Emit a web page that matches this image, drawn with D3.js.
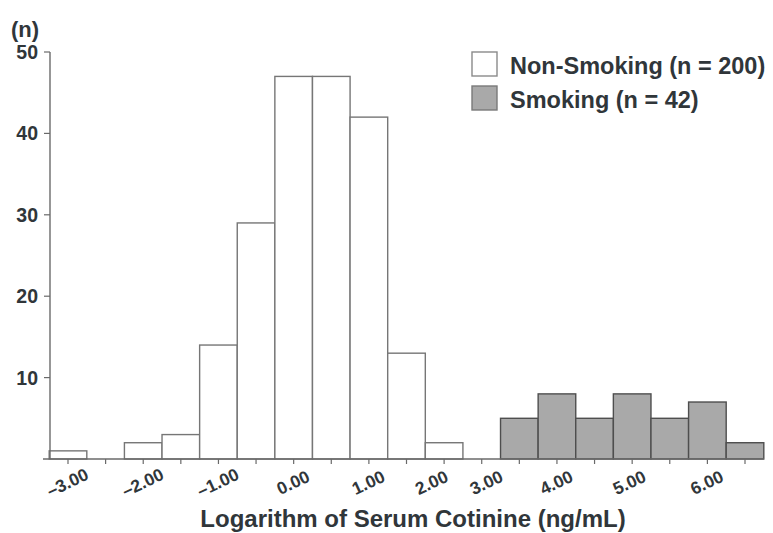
<!DOCTYPE html>
<html>
<head>
<meta charset="utf-8">
<script src="https://cdn.jsdelivr.net/npm/d3@7/dist/d3.min.js"></script>
<style>
  body { margin: 0; background: #fff; }
  svg text { font-family: "Liberation Sans", Arial, sans-serif; font-weight: bold; fill: #30363a; }
</style>
</head>
<body>
<div id="chart"></div>
<script>
// histogram bins (centre of each 0.5-wide log bin) and counts
const nonSmokingBins = [-3, -2.5, -2, -1.5, -1, -0.5, 0, 0.5, 1, 1.5, 2];
const nonSmokingCounts = [1, 0, 2, 3, 14, 29, 47, 47, 42, 13, 2];
const smokingBins = [3, 3.5, 4, 4.5, 5, 5.5, 6];
const smokingCounts = [5, 8, 5, 8, 5, 7, 2];

const xTickValues = d3.range(-3, 6.01, 0.5);
// label text and where it sits along the axis (as printed in the figure)
const xLabelText = ['–3.00', '–2.00', '–1.00', '0.00', '1.00', '2.00', '3.00', '4.00', '5.00', '6.00'];
const xLabelPos = [-3, -2, -1, 0, 1, 1.84, 2.57, 3.5, 4.47, 5.5];
const yTickValues = [10, 20, 30, 40, 50];

const legendItems = ['Non-Smoking (n = 200)', 'Smoking (n = 42)'];

const W = 773, H = 533;
const BIN_W = 0.5;

const svg = d3.select('#chart').append('svg')
    .attr('width', W)
    .attr('height', H);

const x = d3.scaleLinear().domain([-3, 6]).range([68, 745]);
const y = d3.scaleLinear().domain([0, 50]).range([459, 52]);

const axisColor = '#6a6a6a';

// bars
function drawBars(bins, counts, fill, stroke) {
    const data = bins.map((b, i) => ({ b, c: counts[i] })).filter(d => d.c > 0);
    svg.append('g').selectAll('rect')
        .data(data)
        .join('rect')
        .attr('x', d => x(d.b - BIN_W / 2))
        .attr('width', d => x(d.b + BIN_W / 2) - x(d.b - BIN_W / 2))
        .attr('y', d => y(d.c))
        .attr('height', d => y(0) - y(d.c))
        .attr('fill', fill)
        .attr('stroke', stroke)
        .attr('stroke-width', 1.4);
}
drawBars(nonSmokingBins, nonSmokingCounts, '#ffffff', '#767676');
drawBars(smokingBins, smokingCounts, '#a9a9a9', '#4e4e4e');

// x axis
const xAxis = svg.append('g').attr('transform', `translate(0,${y(0)})`);
xAxis.append('line')
    .attr('x1', 43).attr('x2', x(6 + BIN_W / 2))
    .attr('stroke', axisColor).attr('stroke-width', 1.4);
xAxis.selectAll('line.tick')
    .data(xTickValues)
    .join('line')
    .attr('class', 'tick')
    .attr('x1', d => x(d)).attr('x2', d => x(d))
    .attr('y1', 0).attr('y2', 5)
    .attr('stroke', axisColor).attr('stroke-width', 1.2);
xAxis.selectAll('text')
    .data(xLabelText)
    .join('text')
    .attr('transform', (d, i) => `translate(${x(xLabelPos[i]) + 2},29) rotate(-25)`)
    .attr('text-anchor', 'middle')
    .attr('font-size', 17.5)
    .text(d => d);

// y axis
const yAxis = svg.append('g').attr('transform', 'translate(50,0)');
yAxis.append('line')
    .attr('y1', y(50)).attr('y2', y(0))
    .attr('stroke', axisColor).attr('stroke-width', 1.4);
yAxis.selectAll('line.tick')
    .data(yTickValues)
    .join('line')
    .attr('class', 'tick')
    .attr('x1', -6).attr('x2', 0)
    .attr('y1', d => y(d)).attr('y2', d => y(d))
    .attr('stroke', axisColor).attr('stroke-width', 1.2);
yAxis.selectAll('text')
    .data(yTickValues)
    .join('text')
    .attr('x', -12)
    .attr('y', d => y(d))
    .attr('dy', '0.36em')
    .attr('text-anchor', 'end')
    .attr('font-size', 19.5)
    .text(d => d);

svg.append('text')
    .attr('x', 11).attr('y', 37)
    .attr('font-size', 22)
    .text('(n)');

// axis title
svg.append('text')
    .attr('x', 413).attr('y', 527)
    .attr('text-anchor', 'middle')
    .attr('font-size', 24)
    .text('Logarithm of Serum Cotinine (ng/mL)');

// legend
const legend = svg.append('g').attr('transform', 'translate(472,52)');
const legendFill = ['#ffffff', '#a9a9a9'];
const legendStroke = ['#8a8a8a', '#7a7a7a'];
legendItems.forEach((t, i) => {
    const g = legend.append('g').attr('transform', `translate(0,${i * 34})`);
    g.append('rect')
        .attr('width', 25).attr('height', 24)
        .attr('fill', legendFill[i])
        .attr('stroke', legendStroke[i])
        .attr('stroke-width', 1.4);
    g.append('text')
        .attr('x', 38).attr('y', 22)
        .attr('font-size', 23.5)
        .text(t);
});
</script>
</body>
</html>
